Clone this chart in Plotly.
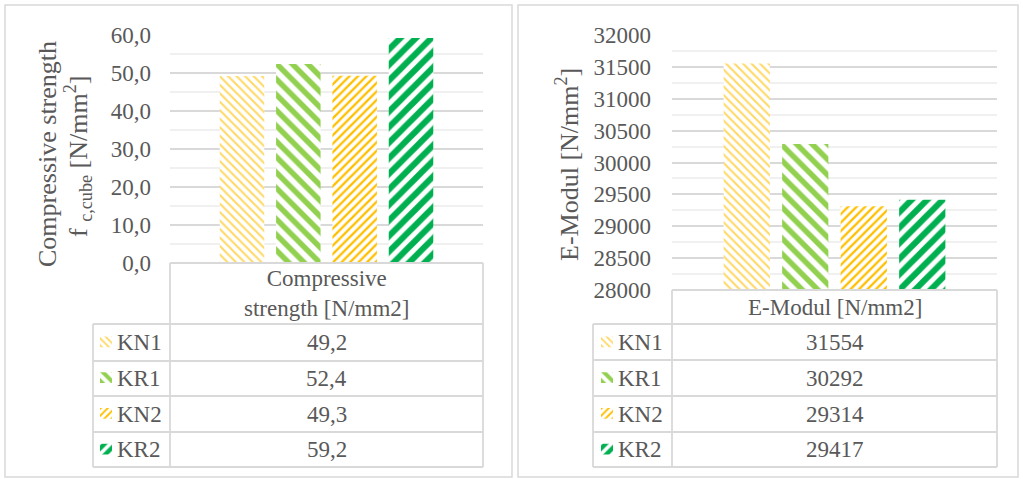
import plotly.graph_objects as go

W, H = 1023, 479

# ---- data ----
specimens = ["KN1", "KR1", "KN2", "KR2"]
strength = [49.2, 52.4, 49.3, 59.2]
e_modulus = [31554, 30292, 29314, 29417]
strength_header = "Compressive<br>strength [N/mm2]"
modulus_header = "E-Modul [N/mm2]"
strength_ticks = [0, 10, 20, 30, 40, 50, 60]
modulus_ticks = [28000, 28500, 29000, 29500, 30000, 30500, 31000, 31500, 32000]

# ---- styles ----
colors = ["#FFD966", "#92D050", "#FFC000", "#00B050"]
hatch = ["\\", "\\", "/", "/"]
hatch_size = [6, 11, 6, 11]
hatch_solid = [0.35, 0.5, 0.38, 0.55]
FONT = "Liberation Serif, Times New Roman, DejaVu Serif, serif"
TXT = "#595959"
GRID = "#D9D9D9"
MINOR = "#F0F0F0"


def fx(p):
    return p / W


def fy(p):
    return 1 - p / H


def pattern(i, size=None):
    return dict(shape=hatch[i], fgcolor=colors[i], bgcolor="white", fgopacity=1,
                fillmode="replace", size=size or hatch_size[i], solidity=hatch_solid[i])


fig = go.Figure()

# main bars
for i, name in enumerate(specimens):
    fig.add_trace(go.Bar(x=[0], y=[strength[i]], name=name, xaxis="x", yaxis="y",
                         marker=dict(color="white", line=dict(width=0), pattern=pattern(i)),
                         showlegend=False, hoverinfo="skip"))
    fig.add_trace(go.Bar(x=[0], y=[e_modulus[i]], name=name, xaxis="x2", yaxis="y2",
                         marker=dict(color="white", line=dict(width=0), pattern=pattern(i)),
                         showlegend=False, hoverinfo="skip"))

# legend keys inside the data tables
for i, name in enumerate(specimens):
    for xa, ya in (("x3", "y3"), ("x4", "y4")):
        fig.add_trace(go.Bar(x=[1], y=[i], orientation="h", xaxis=xa, yaxis=ya,
                             width=0.3, offset=-0.15,
                             marker=dict(color="white", line=dict(width=0),
                                         pattern=pattern(i, size=5 if hatch_size[i] < 8 else 8)),
                             showlegend=False, hoverinfo="skip"))

axis_font = dict(family=FONT, size=23, color=TXT)
hidden = dict(visible=False, automargin=False, fixedrange=True)

fig.update_layout(
    template="none",
    width=W, height=H, autosize=False,
    margin=dict(l=0, r=0, t=0, b=0, pad=0, autoexpand=False),
    paper_bgcolor="white", plot_bgcolor="white",
    showlegend=False,
    barmode="group", bargap=0.28, bargroupgap=0.21,
    separators=", ",
    font=dict(family=FONT, color=TXT),
    xaxis=dict(domain=[fx(170), fx(483)], range=[-0.5, 0.5], anchor="y", **hidden),
    yaxis=dict(domain=[fy(263), fy(35)], range=[0, 60], tickvals=strength_ticks, anchor="x",
               tickformat=".1f", tickfont=axis_font, ticks="", ticklabelstandoff=18,
               showgrid=True, gridcolor=GRID, gridwidth=1.5, zeroline=False,
               showline=False, automargin=False,
               minor=dict(dtick=5, showgrid=True, gridcolor=MINOR, gridwidth=1.5)),
    xaxis2=dict(domain=[fx(672), fx(997)], range=[-0.5, 0.5], anchor="y2", **hidden),
    yaxis2=dict(domain=[fy(290), fy(35)], range=[28000, 32000], tickvals=modulus_ticks,
                tickformat="d", tickfont=axis_font, ticks="", ticklabelstandoff=20,
                showgrid=True, gridcolor=GRID, gridwidth=1.5, zeroline=False,
                showline=False, automargin=False,
                minor=dict(dtick=250, showgrid=True, gridcolor=MINOR, gridwidth=1.5),
                anchor="x2"),
    xaxis3=dict(domain=[fx(100), fx(112)], range=[0, 1], anchor="y3", **hidden),
    yaxis3=dict(domain=[fy(467), fy(324)], range=[3.5, -0.5], anchor="x3", **hidden),
    xaxis4=dict(domain=[fx(601), fx(613)], range=[0, 1], anchor="y4", **hidden),
    yaxis4=dict(domain=[fy(467), fy(324)], range=[3.5, -0.5], anchor="x4", **hidden),
)

shapes = []


def line(x0, y0, x1, y1, color=GRID, w=1.8):
    shapes.append(dict(type="line", xref="paper", yref="paper",
                       x0=fx(x0), y0=fy(y0), x1=fx(x1), y1=fy(y1),
                       line=dict(color=color, width=w)))


# panel frames
for x0, x1 in ((5, 512), (518, 1018)):
    shapes.append(dict(type="rect", xref="paper", yref="paper",
                       x0=fx(x0), y0=fy(477), x1=fx(x1), y1=fy(5),
                       line=dict(color="#D9D9D9", width=1.5)))

annotations = []


def text(x, y, s, size=23, xanchor="center", angle=0):
    annotations.append(dict(xref="paper", yref="paper", x=fx(x), y=fy(y), text=s,
                            showarrow=False, xanchor=xanchor, yanchor="middle",
                            textangle=angle, font=dict(family=FONT, size=size, color=TXT)))


def data_table(left, key_x, c0, c1, top, rows, header, values):
    # header cell and row grid
    line(c0, top, c1, top)
    line(c0, top, c0, rows[-1])
    line(c1, top, c1, rows[-1])
    line(left, rows[0], left, rows[-1])
    for r in rows:
        line(left, r, c1, r)
    text((c0 + c1) / 2, (top + rows[0]) / 2, header)
    for i, name in enumerate(specimens):
        yc = (rows[i] + rows[i + 1]) / 2
        text(key_x, yc, name, xanchor="left")
        text((c0 + c1) / 2, yc, values[i])


data_table(93, 115, 170, 483, 263, [324, 361, 396, 432, 467], strength_header,
           [f"{v:.1f}".replace(".", ",") for v in strength])
data_table(593, 616, 672, 997, 290, [324, 360, 396, 432, 467], modulus_header,
           [str(v) for v in e_modulus])

# axis titles
text(47, 154, "Compressive strength", size=26, angle=-90)
text(78, 156, "f <sub>c,cube</sub> [N/mm<sup>2</sup>]", size=26, angle=-90)
text(567, 165, "E-Modul [N/mm<sup>2</sup>]", size=26, angle=-90)

fig.update_layout(shapes=shapes, annotations=annotations)
fig.write_html("out.html")
